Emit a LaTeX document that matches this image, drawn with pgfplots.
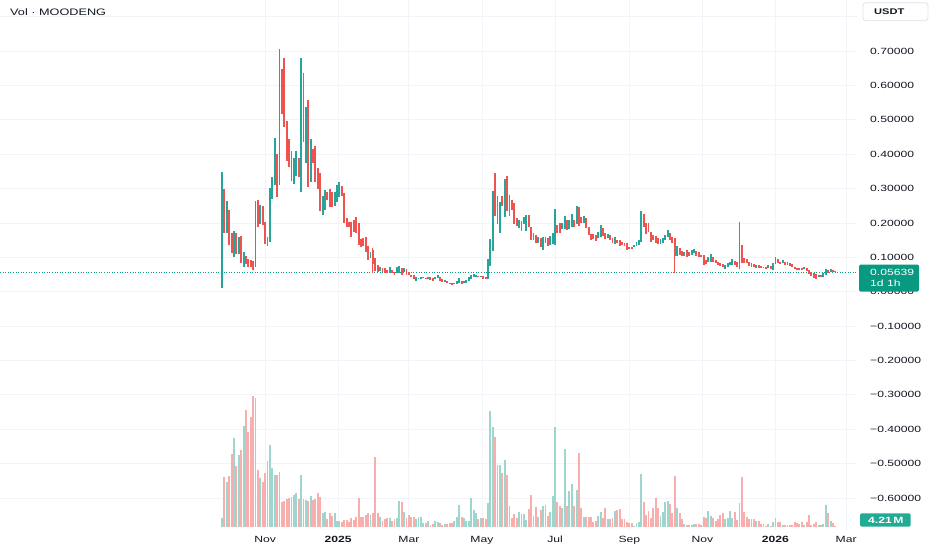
\documentclass[border=0pt]{standalone}
\usepackage{pgfplots}
\pgfplotsset{compat=1.18}
\usepackage{pgfplotstable}
\usepackage{fontspec}
\setmainfont{Liberation Sans}
\newfontfamily\widefont{Liberation Sans}[FakeStretch=1.35]
\definecolor{up}{HTML}{26A69A}
\definecolor{dn}{HTML}{EF5350}
\definecolor{vup}{HTML}{9ED6CE}
\definecolor{vdn}{HTML}{F7AEAD}
\definecolor{lblgreen}{HTML}{089981}
\definecolor{volgreen}{HTML}{22AB94}
\definecolor{gridc}{HTML}{F2F4F9}
\definecolor{txt}{HTML}{131722}
\definecolor{boxline}{HTML}{E0E3EB}

\pgfplotstableread{
i o c v
0 0.010 0.349 19
1 0.298 0.171 101
2 0.171 0.264 91
3 0.239 0.136 103
4 0.171 0.113 147
5 0.100 0.176 178
6 0.171 0.111 123
7 0.111 0.160 145
8 0.162 0.084 155
9 0.073 0.115 203
10 0.104 0.080 235
11 0.094 0.073 191
12 0.092 0.071 221
13 0.089 0.063 263
14 0.073 0.264 258
15 0.267 0.189 115
16 0.196 0.252 98
17 0.249 0.194 91
18 0.204 0.139 109
19 0.160 0.133 133
20 0.145 0.301 165
21 0.271 0.334 118
22 0.310 0.446 105
23 0.402 0.276 105
24 0.310 0.705 110
25 0.647 0.517 51
26 0.679 0.478 53
27 0.496 0.381 56
28 0.444 0.364 58
29 0.410 0.323 60
30 0.313 0.390 65
31 0.336 0.409 68
32 0.388 0.334 57
33 0.291 0.679 105
34 0.637 0.436 57
35 0.373 0.538 55
36 0.559 0.305 53
37 0.320 0.444 63
38 0.414 0.373 55
39 0.424 0.320 56
40 0.360 0.300 69
41 0.344 0.236 61
42 0.223 0.278 28
43 0.237 0.296 31
44 0.291 0.266 16
45 0.298 0.247 29
46 0.291 0.247 23
47 0.250 0.291 29
48 0.262 0.310 13
49 0.276 0.318 13
50 0.307 0.278 11
51 0.288 0.200 15
52 0.213 0.189 15
53 0.203 0.189 10
54 0.203 0.160 18
55 0.208 0.174 15
56 0.218 0.171 21
57 0.200 0.136 58
58 0.152 0.131 21
59 0.155 0.133 20
60 0.160 0.116 24
61 0.133 0.092 29
62 0.097 0.116 24
63 0.120 0.080 29
64 0.097 0.060 140
65 0.078 0.058 29
66 0.059 0.071 20
67 0.068 0.058 13
68 0.068 0.055 16
69 0.063 0.053 19
70 0.053 0.071 18
71 0.063 0.053 13
72 0.058 0.048 17
73 0.053 0.071 19
74 0.055 0.075 53
75 0.068 0.048 51
76 0.058 0.068 30
77 0.065 0.048 19
78 0.058 0.048 25
79 0.050 0.042 21
80 0.048 0.036 21
81 0.032 0.042 17
82 0.036 0.041 21
83 0.038 0.042 20
84 0.039 0.044 9
85 0.041 0.036 9
86 0.036 0.042 13
87 0.042 0.034 5
88 0.039 0.032 6
89 0.036 0.044 13
90 0.039 0.048 10
91 0.042 0.032 8
92 0.036 0.029 5
93 0.028 0.034 7
94 0.031 0.024 6
95 0.026 0.021 9
96 0.026 0.019 8
97 0.022 0.026 13
98 0.022 0.030 20
99 0.026 0.039 45
100 0.030 0.022 21
101 0.024 0.032 18
102 0.026 0.034 13
103 0.030 0.042 13
104 0.036 0.048 59
105 0.042 0.051 35
106 0.044 0.048 29
107 0.047 0.042 16
108 0.042 0.047 19
109 0.045 0.036 19
110 0.044 0.036 16
111 0.036 0.094 48
112 0.075 0.152 233
113 0.119 0.294 201
114 0.344 0.220 181
115 0.278 0.197 125
116 0.170 0.260 125
117 0.278 0.249 109
118 0.216 0.327 135
119 0.336 0.236 105
120 0.281 0.220 43
121 0.267 0.237 19
122 0.259 0.197 26
123 0.213 0.191 19
124 0.184 0.210 31
125 0.207 0.177 26
126 0.197 0.216 26
127 0.177 0.223 15
128 0.223 0.187 37
129 0.187 0.150 65
130 0.172 0.150 23
131 0.165 0.141 40
132 0.143 0.160 21
133 0.157 0.129 35
134 0.121 0.160 43
135 0.160 0.141 45
136 0.155 0.133 23
137 0.136 0.162 31
138 0.139 0.170 63
139 0.136 0.240 201
140 0.194 0.170 51
141 0.199 0.172 43
142 0.181 0.199 39
143 0.181 0.220 156
144 0.210 0.179 43
145 0.181 0.210 73
146 0.187 0.226 86
147 0.208 0.189 43
148 0.197 0.249 75
149 0.245 0.191 149
150 0.218 0.199 39
151 0.201 0.220 21
152 0.213 0.184 21
153 0.187 0.165 20
154 0.168 0.150 20
155 0.168 0.152 11
156 0.165 0.148 13
157 0.155 0.174 22
158 0.160 0.194 31
159 0.184 0.162 19
160 0.172 0.152 39
161 0.155 0.168 17
162 0.165 0.150 16
163 0.155 0.143 19
164 0.139 0.160 32
165 0.150 0.141 35
166 0.150 0.133 36
167 0.145 0.136 16
168 0.143 0.133 16
169 0.141 0.121 11
170 0.131 0.123 9
171 0.131 0.123 9
172 0.129 0.136 3
173 0.133 0.145 8
174 0.136 0.150 11
175 0.145 0.236 106
176 0.226 0.189 51
177 0.199 0.168 25
178 0.201 0.174 32
179 0.175 0.145 18
180 0.165 0.150 39
181 0.162 0.141 58
182 0.155 0.139 39
183 0.139 0.152 23
184 0.141 0.157 31
185 0.150 0.165 51
186 0.160 0.179 52
187 0.170 0.150 47
188 0.160 0.143 29
189 0.155 0.105 103
190 0.104 0.133 38
191 0.127 0.107 28
192 0.119 0.104 17
193 0.104 0.116 6
194 0.121 0.102 5
195 0.116 0.104 4
196 0.107 0.121 5
197 0.113 0.124 6
198 0.119 0.104 7
199 0.116 0.100 6
200 0.107 0.100 4
201 0.107 0.078 21
202 0.092 0.081 18
203 0.085 0.100 33
204 0.087 0.110 22
205 0.102 0.085 19
206 0.092 0.083 13
207 0.087 0.078 16
208 0.084 0.075 25
209 0.081 0.073 29
210 0.065 0.078 16
211 0.073 0.084 19
212 0.078 0.087 33
213 0.078 0.094 19
214 0.090 0.078 31
215 0.087 0.073 15
216 0.073 0.090 48
217 0.136 0.083 101
218 0.097 0.083 30
219 0.094 0.083 21
220 0.087 0.075 16
221 0.083 0.073 17
222 0.081 0.073 17
223 0.068 0.078 13
224 0.077 0.068 13
225 0.075 0.068 7
226 0.068 0.073 7
227 0.073 0.067 3
228 0.068 0.078 6
229 0.075 0.065 2
230 0.063 0.083 11
231 0.081 0.100 18
232 0.094 0.083 11
233 0.087 0.081 11
234 0.083 0.092 5
235 0.087 0.078 5
236 0.086 0.078 5
237 0.083 0.075 5
238 0.081 0.071 4
239 0.073 0.065 11
240 0.070 0.063 8
241 0.070 0.063 6
242 0.070 0.063 11
243 0.065 0.071 4
244 0.070 0.061 11
245 0.063 0.051 25
246 0.058 0.046 4
247 0.053 0.039 7
248 0.051 0.036 11
249 0.042 0.049 4
250 0.049 0.042 5
251 0.042 0.053 6
252 0.049 0.065 45
253 0.063 0.053 29
254 0.056 0.065 13
255 0.063 0.056 8
256 0.061 0.056 3
}\candles
\pgfplotstablecreatecol[expr={\thisrow{c}-\thisrow{o}}]{dv}\candles
\pgfplotstablecreatecol[expr={(\thisrow{c}>=\thisrow{o})}]{t}\candles

\pgfplotstableread{
i l h
63 0.053 0.126
114 0.220 0.345
189 0.053 0.155
}\wickdn
\pgfplotstablecreatecol[expr={\thisrow{h}-\thisrow{l}}]{dh}\wickdn

\pgfplotstableread{
i l h
216 0.065 0.204
}\wickup
\pgfplotstablecreatecol[expr={\thisrow{h}-\thisrow{l}}]{dh}\wickup

\begin{document}
\begin{tikzpicture}
\useasboundingbox (0,0) rectangle (932pt,550pt);
\fill[white] (0,0) rectangle (932pt,550pt);
\begin{axis}[
  at={(0pt,20pt)}, anchor=south west, scale only axis,
  width=857pt, height=530pt,
  xmin=-92.65, xmax=265.03, ymin=-0.6931, ymax=0.8485,
  axis line style={draw=none}, major tick length=0pt,
  xtick={18,48.5,78,108.5,139,170,200.5,231,260.5},
  xticklabels={Nov,\textbf{2025},Mar,May,Jul,Sep,Nov,\textbf{2026},Mar},
  ytick={-0.6,-0.5,-0.4,-0.3,-0.2,-0.1,0,0.1,0.2,0.3,0.4,0.5,0.6,0.7,0.8},
  yticklabels={−0.60000,−0.50000,−0.40000,−0.30000,−0.20000,−0.10000,0.00000,0.10000,0.20000,0.30000,0.40000,0.50000,0.60000,0.70000,{}},
  yticklabel pos=right,
  grid=major, grid style={draw=gridc, line width=0.8pt},
  ticklabel style={font=\widefont\fontsize{9}{10}\selectfont, text=txt, inner sep=0pt},
  xticklabel style={anchor=base, yshift=-12.7pt},
  yticklabel style={anchor=west, xshift=13pt},
  colormap={candle}{color=(dn) color=(up)},
  point meta min=0, point meta max=1,
]
\addplot[draw=lblgreen, line width=0.9pt, dash pattern=on 1pt off 1.6pt] coordinates {(-92.65,0.05639) (265.03,0.05639)};
\addplot[dn, line width=0.9pt, quiver={u=0, v=\thisrow{dh}}] table[x=i, y=l] {\wickdn};
\addplot[up, line width=0.9pt, quiver={u=0, v=\thisrow{dh}}] table[x=i, y=l] {\wickup};
\addplot[line width=1.9pt, point meta=\thisrow{t},
  quiver={u=0, v=\thisrow{dv}, colored=mapped color}] table[x=i, y=o] {\candles};
\end{axis}
\begin{axis}[
  at={(0pt,20pt)}, anchor=south west, scale only axis,
  width=857pt, height=530pt,
  xmin=-92.65, xmax=265.03, ymin=-5.4, ymax=1054.6,
  hide axis,
  colormap={vol}{color=(vdn) color=(vup)},
  point meta min=0, point meta max=1,
]
\addplot[line width=1.9pt, point meta=\thisrow{t},
  quiver={u=0, v=\thisrow{v}, colored=mapped color}] table[x=i, y expr=0] {\candles};
\end{axis}
% header
\node[anchor=west, text=txt, inner sep=0pt, font=\widefont\fontsize{9.4}{11}\selectfont] at (10pt,538pt) {Vol · MOODENG};
% currency box
\draw[boxline, fill=white, rounded corners=3pt, line width=0.8pt] (863pt,547.3pt) rectangle (928pt,529.3pt);
\node[anchor=west, text=txt, inner sep=0pt, font=\widefont\fontsize{8.2}{10}\selectfont\bfseries] at (874pt,538.3pt) {USDT};
% price label
\fill[lblgreen, rounded corners=1.5pt] (859pt,285.5pt) rectangle (919pt,258.3pt);
\node[anchor=west, text=white, inner sep=0pt, font=\widefont\fontsize{9}{10}\selectfont] at (870pt,277.7pt) {0.05639};
\node[anchor=west, text=white, inner sep=0pt, font=\widefont\fontsize{9}{10}\selectfont] at (870pt,266.3pt) {1d 1h};
% volume label
\fill[volgreen, rounded corners=1.5pt] (860pt,36.7pt) rectangle (910.7pt,23.3pt);
\node[anchor=west, text=white, inner sep=0pt, font=\widefont\fontsize{9}{10}\selectfont\bfseries] at (868pt,30pt) {4.21\,M};
\end{tikzpicture}
\end{document}
